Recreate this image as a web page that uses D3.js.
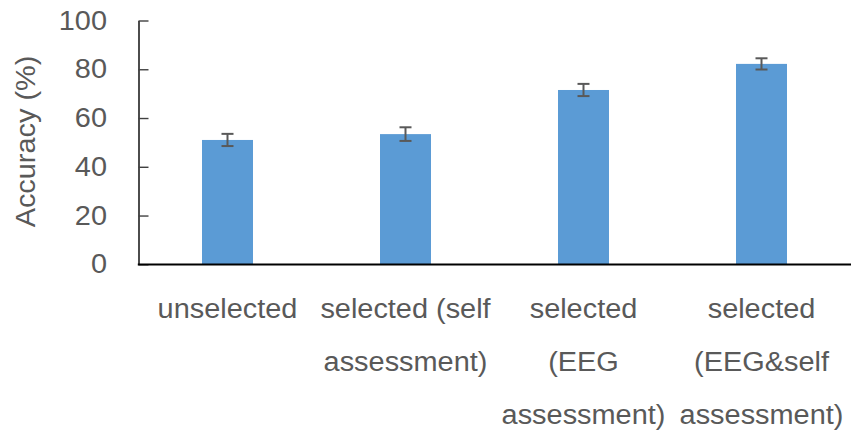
<!DOCTYPE html>
<html>
<head>
<meta charset="utf-8">
<script src="https://cdn.jsdelivr.net/npm/d3@7"></script>
<style>
  html, body { margin: 0; padding: 0; background: #fff; }
  svg { display: block; }
  text { font-family: "Liberation Sans", Arial, sans-serif; fill: #595959; }
</style>
</head>
<body>
<svg id="chart" width="851" height="432"></svg>
<script>
// Mean accuracy per condition, with error bar half-widths
const categories = [
  "unselected",
  "selected (self assessment)",
  "selected (EEG assessment)",
  "selected (EEG&self assessment)"
];
const accuracy = [51.0, 53.4, 71.5, 82.2];
const errors = [2.5, 2.8, 2.5, 2.3];
const yTicks = [0, 20, 40, 60, 80, 100];
const yTitle = "Accuracy (%)";

const FONT = 27;
const STRETCH = 1.07;

const svg = d3.select("#chart");
const plotLeft = 138.5, plotRight = 850.5, plotTop = 20.5, plotBottom = 264.3;

const x = d3.scaleBand()
  .domain(categories)
  .range([plotLeft, plotRight])
  .paddingInner(0.7135)
  .paddingOuter(0.7135 / 2);

const y = d3.scaleLinear().domain([0, 100]).range([plotBottom, plotTop]);

// Slightly widen text to the wide-set face of the labels
function widen(sel) {
  sel.each(function () {
    const len = this.getComputedTextLength();
    if (len > 0) {
      d3.select(this)
        .attr("textLength", len * STRETCH)
        .attr("lengthAdjust", "spacingAndGlyphs");
    }
  });
}

// Bars
svg.append("g").selectAll("rect")
  .data(categories)
  .join("rect")
  .attr("x", d => x(d))
  .attr("width", x.bandwidth())
  .attr("y", (d, i) => y(accuracy[i]))
  .attr("height", (d, i) => y(0) - y(accuracy[i]))
  .attr("fill", "#5B9BD5");

// Error bars
const eb = svg.append("g")
  .attr("stroke", "#595959")
  .attr("stroke-width", 2)
  .attr("fill", "none");
categories.forEach((c, i) => {
  const cx = x(c) + x.bandwidth() / 2;
  const y1 = y(accuracy[i] + errors[i]);
  const y2 = y(accuracy[i] - errors[i]);
  eb.append("line").attr("x1", cx).attr("x2", cx).attr("y1", y1).attr("y2", y2);
  eb.append("line").attr("x1", cx - 6).attr("x2", cx + 6).attr("y1", y1).attr("y2", y1);
  eb.append("line").attr("x1", cx - 6).attr("x2", cx + 6).attr("y1", y2).attr("y2", y2);
});

// Y axis: inward ticks, labels on the left
const yAxis = svg.append("g")
  .attr("transform", `translate(${plotLeft},0)`)
  .call(d3.axisLeft(y).tickValues(yTicks).tickSizeInner(-10).tickSizeOuter(0).tickPadding(31.5));
yAxis.select(".domain").attr("stroke", "#000").attr("stroke-width", 1.4);
yAxis.selectAll(".tick line").attr("stroke", "#404040").attr("stroke-width", 1.4);
yAxis.selectAll(".tick text")
  .style("font-size", FONT + "px")
  .attr("fill", "#595959")
  .style("font-family", '"Liberation Sans", Arial, sans-serif')
  .call(widen);

// X baseline
svg.append("line")
  .attr("x1", plotLeft - 0.7).attr("x2", 851)
  .attr("y1", y(0) + 0.3).attr("y2", y(0) + 0.3)
  .attr("stroke", "#000").attr("stroke-width", 2);

// Category labels, word-wrapped to the band step
const step = x.step();
const lineGap = 53;
const labels = svg.append("g");
categories.forEach(c => {
  const cx = x(c) + x.bandwidth() / 2;
  const words = c.split(" ");
  const lines = [];
  let cur = "";
  const probe = labels.append("text").style("font-size", FONT + "px");
  words.forEach(w => {
    const test = cur ? cur + " " + w : w;
    probe.text(test);
    if (cur && probe.node().getComputedTextLength() * STRETCH > step - 4) {
      lines.push(cur);
      cur = w;
    } else {
      cur = test;
    }
  });
  if (cur) lines.push(cur);
  probe.remove();
  lines.forEach((ln, k) => {
    labels.append("text")
      .attr("x", cx)
      .attr("y", 317.5 + k * lineGap)
      .attr("text-anchor", "middle")
      .style("font-size", FONT + "px")
      .text(ln)
      .call(widen);
  });
});

// Y title
svg.append("text")
  .attr("transform", `translate(35,141.5) rotate(-90)`)
  .attr("text-anchor", "middle")
  .style("font-size", FONT + "px")
  .text(yTitle)
  .call(widen);
</script>
</body>
</html>
